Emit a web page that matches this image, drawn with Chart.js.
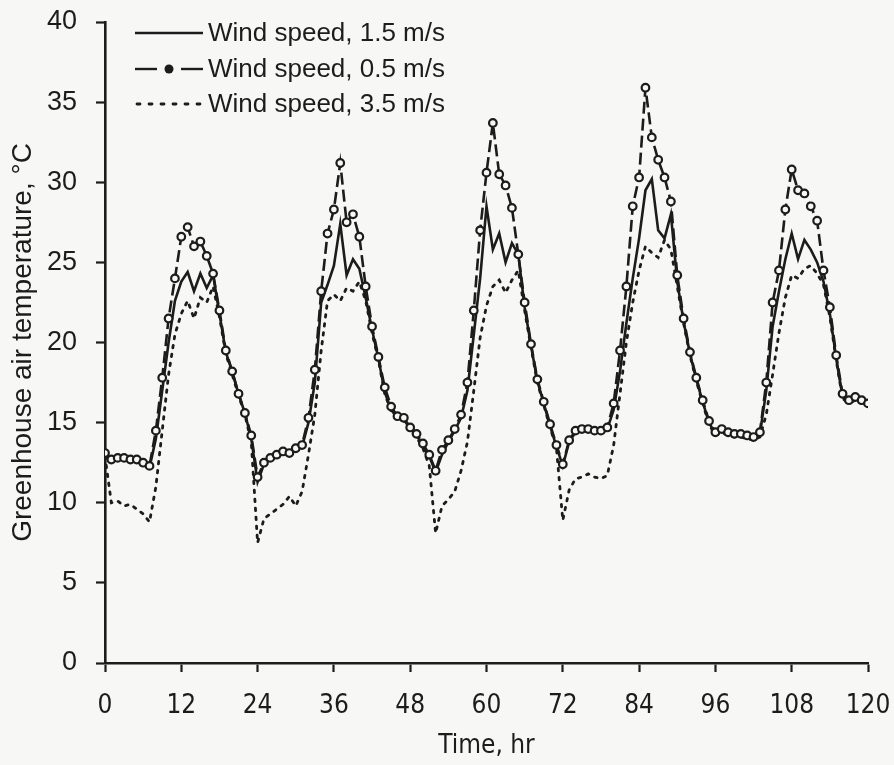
<!DOCTYPE html>
<html>
<head>
<meta charset="utf-8">
<title>Greenhouse air temperature</title>
<script src="https://cdn.jsdelivr.net/npm/chart.js@4.4.1/dist/chart.umd.min.js"></script>
<style>
  html, body { margin: 0; padding: 0; background: #f7f7f5; }
  #tempChart { display: block; }
</style>
</head>
<body>
<canvas id="tempChart" width="894" height="765"></canvas>
<script>
// time, hr
const hours = [
  0, 1, 2, 3, 4, 5, 6, 7, 8, 9, 10, 11, 12, 13, 14, 15, 16, 17, 18, 19, 20,
  21, 22, 23, 24, 25, 26, 27, 28, 29, 30, 31, 32, 33, 34, 35, 36, 37, 38, 39, 40,
  41, 42, 43, 44, 45, 46, 47, 48, 49, 50, 51, 52, 53, 54, 55, 56, 57, 58, 59, 60,
  61, 62, 63, 64, 65, 66, 67, 68, 69, 70, 71, 72, 73, 74, 75, 76, 77, 78, 79, 80,
  81, 82, 83, 84, 85, 86, 87, 88, 89, 90, 91, 92, 93, 94, 95, 96, 97, 98, 99, 100,
  101, 102, 103, 104, 105, 106, 107, 108, 109, 110, 111, 112, 113, 114, 115, 116, 117, 118, 119, 120
];

// wind speed 1.5 m/s
const wind15 = [
  12.9, 12.6, 12.8, 12.7, 12.8, 12.6, 12.4, 12.2, 14.0, 17.0, 20.0,
  22.6, 23.8, 24.4, 23.2, 24.3, 23.4, 24.2, 21.8, 19.4, 18.2,
  16.8, 15.6, 14.0, 11.3, 12.4, 12.7, 12.9, 13.1, 13.0, 13.3,
  13.5, 15.0, 17.5, 22.5, 23.6, 24.8, 27.4, 24.2, 25.2, 24.6,
  22.8, 20.8, 19.0, 16.9, 15.8, 15.3, 15.2, 14.6, 14.2, 13.6,
  12.9, 11.9, 13.0, 13.8, 14.5, 15.3, 17.0, 20.5, 24.0, 28.5,
  25.8, 26.8, 25.0, 26.2, 25.5, 22.2, 19.8, 17.6, 16.2, 14.8,
  13.5, 12.3, 13.8, 14.4, 14.5, 14.5, 14.4, 14.4, 14.6, 15.8,
  18.2, 21.2, 24.0, 26.5, 29.5, 30.2, 27.0, 26.5, 28.0, 23.8,
  21.3, 19.3, 17.7, 16.3, 15.0, 14.3, 14.5, 14.3, 14.2, 14.2,
  14.1, 14.0, 14.3, 17.0, 21.0, 23.2, 25.2, 26.8, 25.2, 26.4,
  25.8, 25.0, 23.8, 21.8, 19.0, 16.6, 16.3, 16.5, 16.3, 16.1
];

// wind speed 0.5 m/s
const wind05 = [
  13.1, 12.7, 12.8, 12.8, 12.7, 12.7, 12.5, 12.3, 14.5, 17.8, 21.5,
  24.0, 26.6, 27.2, 26.0, 26.3, 25.4, 24.3, 22.0, 19.5, 18.2,
  16.8, 15.6, 14.2, 11.6, 12.5, 12.8, 13.0, 13.2, 13.1, 13.4,
  13.6, 15.3, 18.3, 23.2, 26.8, 28.3, 31.2, 27.5, 28.0, 26.6,
  23.5, 21.0, 19.1, 17.2, 16.0, 15.4, 15.3, 14.7, 14.3, 13.7,
  13.0, 12.0, 13.3, 13.9, 14.6, 15.5, 17.5, 22.0, 27.0, 30.6,
  33.7, 30.5, 29.8, 28.4, 25.5, 22.5, 19.9, 17.7, 16.3, 14.9,
  13.6, 12.4, 13.9, 14.5, 14.6, 14.6, 14.5, 14.5, 14.7, 16.2,
  19.5, 23.5, 28.5, 30.3, 35.9, 32.8, 31.4, 30.3, 28.8, 24.2,
  21.5, 19.4, 17.8, 16.4, 15.1, 14.4, 14.6, 14.4, 14.3, 14.3,
  14.2, 14.1, 14.4, 17.5, 22.5, 24.5, 28.3, 30.8, 29.5, 29.3,
  28.5, 27.6, 24.5, 22.2, 19.2, 16.8, 16.4, 16.6, 16.4, 16.2
];

// wind speed 3.5 m/s
const wind35 = [
  12.9, 10.0, 10.1, 9.8, 9.9, 9.6, 9.3, 8.8, 11.0, 14.5, 18.0,
  20.5, 21.8, 22.6, 21.5, 22.8, 22.5, 23.5, 21.6, 19.3, 18.0,
  16.7, 15.5, 13.8, 7.5, 9.0, 9.3, 9.6, 9.9, 10.4, 9.8,
  10.7, 13.0, 15.5, 19.5, 22.6, 23.0, 22.6, 23.4, 23.2, 23.8,
  22.6, 20.6, 18.9, 16.8, 15.7, 15.2, 15.1, 14.5, 14.1, 13.4,
  12.3, 8.1, 9.8, 10.2, 10.7, 12.0, 13.8, 17.0, 20.3, 22.3,
  23.5, 23.9, 23.1, 23.9, 24.5, 22.0, 19.7, 17.5, 16.1, 14.7,
  13.4, 8.9, 10.8, 11.5, 11.6, 11.8, 11.6, 11.5, 11.7, 13.6,
  16.8, 20.0, 22.5, 24.5, 26.0, 25.6, 25.3, 26.4, 25.8, 23.5,
  21.2, 19.2, 17.6, 16.2, 14.9, 14.2, 14.4, 14.2, 14.1, 14.1,
  14.0, 13.9, 14.1, 15.5, 18.0, 20.6, 22.8, 24.2, 24.0, 24.6,
  24.8, 24.3, 23.6, 21.6, 18.9, 16.5, 16.2, 16.4, 16.2, 16.0
];

const seriesNames = ['Wind speed, 1.5 m/s', 'Wind speed, 0.5 m/s', 'Wind speed, 3.5 m/s'];
const xTicks = [0, 12, 24, 36, 48, 60, 72, 84, 96, 108, 120];
const yTicks = [0, 5, 10, 15, 20, 25, 30, 35, 40];

const ink = '#1c1c1c';
const paper = '#f7f7f5';
const sansFont = "'Liberation Sans', Arial, Helvetica, sans-serif";
const narrowFont = "'Liberation Sans Narrow', 'Arial Narrow', 'DejaVu Sans Condensed', sans-serif";

function points(values) {
  return hours.map((h, i) => ({ x: h, y: values[i] }));
}

// legend drawn inside the plot, top left
const insideLegend = {
  id: 'insideLegend',
  afterDraw(chart) {
    const ctx = chart.ctx;
    const x0 = 135, x1 = 203;
    const rows = [33, 69, 104];
    ctx.save();
    ctx.strokeStyle = ink;
    ctx.fillStyle = ink;
    ctx.lineWidth = 2.4;

    // solid
    ctx.setLineDash([]);
    ctx.beginPath(); ctx.moveTo(x0, rows[0]); ctx.lineTo(x1, rows[0]); ctx.stroke();

    // dashed with marker
    ctx.beginPath(); ctx.moveTo(x0, rows[1]); ctx.lineTo(x0 + 22, rows[1]); ctx.stroke();
    ctx.beginPath(); ctx.moveTo(x1 - 22, rows[1]); ctx.lineTo(x1, rows[1]); ctx.stroke();
    ctx.beginPath(); ctx.arc((x0 + x1) / 2, rows[1], 4.5, 0, Math.PI * 2); ctx.fill();

    // dotted
    ctx.setLineDash([3, 9]);
    ctx.lineCap = 'round';
    ctx.lineWidth = 2.8;
    ctx.beginPath(); ctx.moveTo(x0 + 2, rows[2]); ctx.lineTo(x1, rows[2]); ctx.stroke();

    ctx.setLineDash([]);
    ctx.font = '26px ' + sansFont;
    ctx.textBaseline = 'middle';
    ctx.textAlign = 'left';
    seriesNames.forEach((name, i) => ctx.fillText(name, x1 + 5, rows[i] + 1));
    ctx.restore();
  }
};

document.addEventListener('DOMContentLoaded', () => {
  const ctx = document.getElementById('tempChart').getContext('2d');
  new Chart(ctx, {
    type: 'line',
    data: {
      datasets: [
        {
          label: seriesNames[1],
          data: points(wind05),
          borderColor: ink,
          borderWidth: 2.6,
          borderDash: [12, 5],
          pointRadius: 3.8,
          pointBorderWidth: 2.2,
          pointBackgroundColor: paper,
          pointBorderColor: ink,
          tension: 0,
          order: 0
        },
        {
          label: seriesNames[0],
          data: points(wind15),
          borderColor: ink,
          borderWidth: 2.6,
          pointRadius: 0,
          tension: 0,
          order: 1
        },
        {
          label: seriesNames[2],
          data: points(wind35),
          borderColor: ink,
          borderWidth: 2.8,
          borderDash: [2.5, 6.5],
          borderCapStyle: 'round',
          pointRadius: 0,
          tension: 0,
          order: 2
        }
      ]
    },
    options: {
      responsive: false,
      animation: false,
      layout: { padding: { top: 22, right: 26, left: 0, bottom: 0 } },
      plugins: {
        legend: { display: false },
        tooltip: { enabled: false }
      },
      scales: {
        x: {
          type: 'linear',
          min: 0,
          max: 120,
          afterBuildTicks: axis => { axis.ticks = xTicks.map(v => ({ value: v })); },
          afterFit: axis => {
            axis.height = 102;
            axis.paddingLeft = 0;
            axis.paddingRight = 0;
          },
          grid: { drawOnChartArea: false, drawTicks: true, tickLength: 9, tickWidth: 2.2, color: ink },
          border: { display: true, color: ink, width: 2.6 },
          ticks: { color: ink, padding: 19, maxRotation: 0, font: { family: narrowFont, size: 26 } },
          title: {
            display: true,
            text: 'Time, hr',
            color: ink,
            padding: { top: 4, bottom: 3 },
            font: { family: narrowFont, size: 26 }
          }
        },
        y: {
          min: 0,
          max: 40,
          afterBuildTicks: axis => { axis.ticks = yTicks.map(v => ({ value: v })); },
          afterFit: axis => {
            axis.width = 105;
            axis.paddingTop = 0;
            axis.paddingBottom = 0;
          },
          grid: { drawOnChartArea: false, drawTicks: true, tickLength: 9, tickWidth: 2.2, color: ink },
          border: { display: true, color: ink, width: 2.6 },
          ticks: { color: ink, padding: 19, font: { family: sansFont, size: 27 } },
          title: {
            display: true,
            text: 'Greenhouse air temperature, °C',
            color: ink,
            padding: { top: 6, bottom: 0 },
            font: { family: sansFont, size: 28 }
          }
        }
      }
    },
    plugins: [insideLegend]
  });
});
</script>
</body>
</html>
